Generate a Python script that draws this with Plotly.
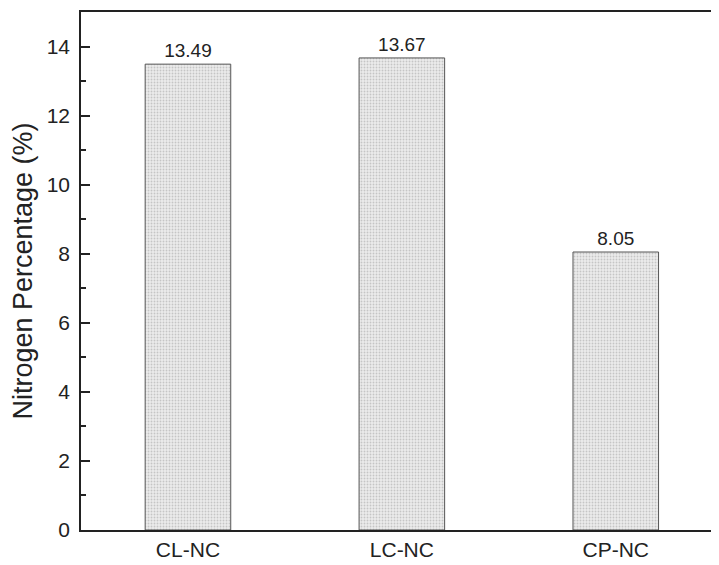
import plotly.graph_objects as go

categories = ["CL-NC", "LC-NC", "CP-NC"]
values = [13.49, 13.67, 8.05]
value_labels = ["13.49", "13.67", "8.05"]
y_ticks = [0, 2, 4, 6, 8, 10, 12, 14]

fig = go.Figure(go.Bar(
    x=categories, y=values, width=0.4,
    text=value_labels, textposition="outside", cliponaxis=False,
    textfont=dict(family="Liberation Sans, Arial", size=19, color="#222"),
    marker=dict(
        color="#e2e2e2",
        line=dict(color="#555555", width=1),
        pattern=dict(shape=".", fgcolor="#a0a0a0", bgcolor="#ebebeb", size=3, solidity=0.3),
    ),
))

fig.update_layout(
    width=719, height=565,
    margin=dict(l=73, r=0, t=4, b=43),
    plot_bgcolor="white", paper_bgcolor="white",
    showlegend=False,
    font=dict(family="Liberation Sans, Arial", color="#222"),
    xaxis=dict(
        range=[-0.5, 2.52], showline=True, linecolor="#222", linewidth=1.5,
        mirror=True, ticks="", showgrid=False, tickfont=dict(size=21),
        automargin=False,
    ),
    yaxis=dict(
        range=[0, 15], tickvals=y_ticks, showline=True, linecolor="#222", linewidth=1.5,
        ticks="inside", ticklen=9, tickwidth=1.5, tickcolor="#222",
        minor=dict(dtick=1, ticks="inside", ticklen=5, tickwidth=1.5, tickcolor="#222", showgrid=False),
        showgrid=False, zeroline=False, tickfont=dict(size=21), ticklabelstandoff=5,
        title=dict(text="Nitrogen Percentage (%)", font=dict(size=27), standoff=8),
        automargin=False,
    ),
)

fig.write_html("out.html")
